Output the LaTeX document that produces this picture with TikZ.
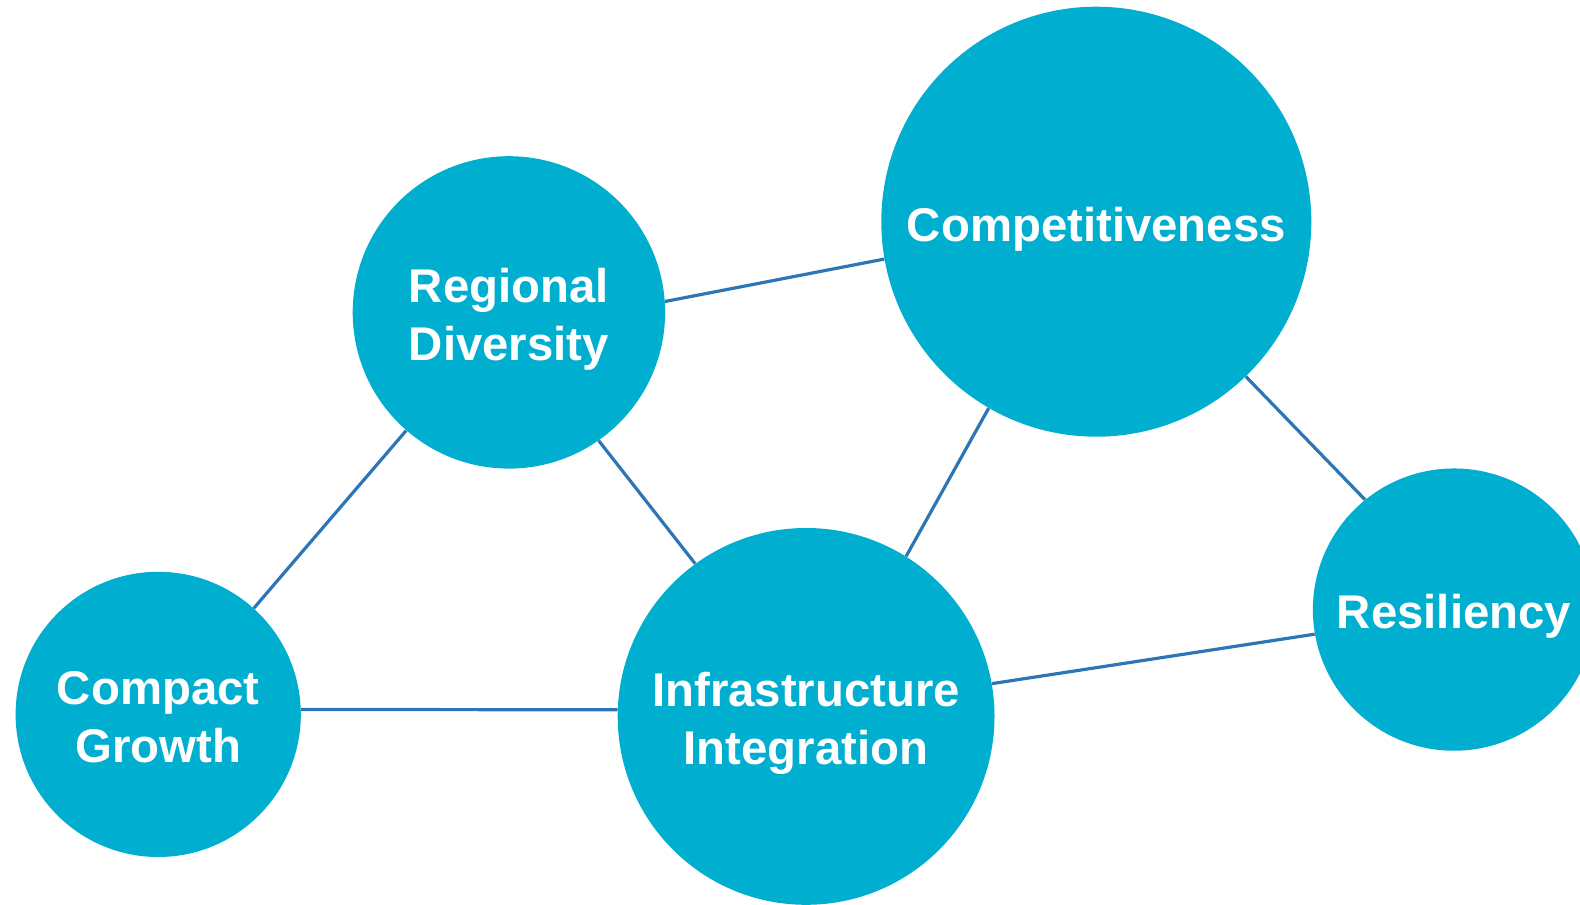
\documentclass[tikz,border=0pt]{standalone}
\usepackage{fontspec}
\setmainfont{Liberation Sans}
\usetikzlibrary{backgrounds}
\definecolor{bubble}{RGB}{0,174,208}
\definecolor{linkblue}{RGB}{46,117,182}
\newcommand{\topstrut}{\rule{0pt}{38pt}}
\newcommand{\botstrut}{\rule[-9pt]{0pt}{9pt}}
\tikzset{
  bubblenode/.style={circle, fill=bubble, draw=none, inner sep=0pt, text=white,
    align=center, font=\fontsize{35.5}{43.5}\selectfont\bfseries, minimum size=#1},
  linkline/.style={draw=linkblue, line width=2.4pt}
}
\begin{document}
\begin{tikzpicture}[x=0.75pt, y=-0.75pt]
\useasboundingbox (0,0) rectangle (1580,905);
\clip (0,0) rectangle (1580,905);
\node[bubblenode=234.3pt] (rd) at (508.9,312.4) {\topstrut Regional\\Diversity\botstrut};
\node[bubblenode=322.5pt] (comp) at (1096.3,221.7) {\topstrut Competitiveness\botstrut};
\node[bubblenode=213.9pt] (cg) at (158.2,714.4) {\topstrut Compact\\Growth\botstrut};
\node[bubblenode=282.6pt] (ii) at (806.1,716.4) {\topstrut Infrastructure\\Integration\botstrut};
\node[bubblenode=211.7pt] (res) at (1454,609.6) {\topstrut Resiliency\botstrut};
\begin{pgfonlayer}{background}
\draw[linkline] (rd.4.8) -- (comp.190.3);
\draw[linkline] (rd.229) -- (cg.48.7);
\draw[linkline] (rd.305.8) -- (ii.126.7);
\draw[linkline] (comp.240.9) -- (ii.58.6);
\draw[linkline] (comp.314.4) -- (res.129.5);
\draw[linkline] (cg.2) -- (ii.178);
\draw[linkline] (ii.10.5) -- (res.190.3);
\end{pgfonlayer}
\end{tikzpicture}
\end{document}
